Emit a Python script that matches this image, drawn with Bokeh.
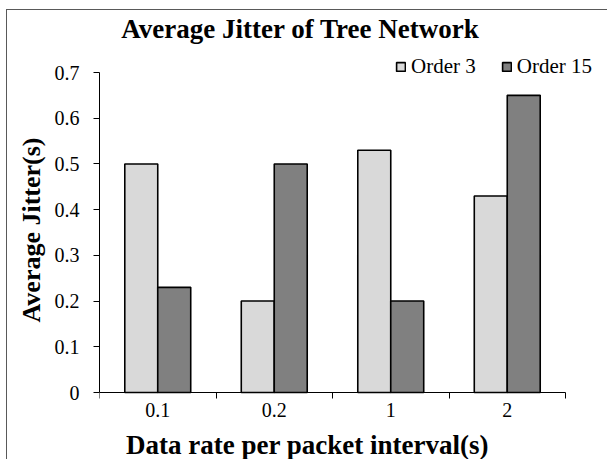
from bokeh.plotting import figure
from bokeh.models import (Range1d, FixedTicker, LinearAxis, Label, Legend, LegendItem,
                          ColumnDataSource, Title)
from bokeh.embed import file_html
from bokeh.resources import INLINE
import numpy as np

# ---- data ----
categories = ["0.1", "0.2", "1", "2"]
order3 = [0.50, 0.20, 0.53, 0.43]
order15 = [0.23, 0.50, 0.20, 0.65]
y_ticks = [0, 0.1, 0.2, 0.3, 0.4, 0.5, 0.6, 0.7]
series_names = ["Order 3", "Order 15"]
y_max = 0.7

FONT = "Liberation Serif"
LIGHT = "#d9d9d9"
DARK = "#808080"

# ---- layout (canvas pixels) ----
W, H = 601, 450
F_LEFT, F_RIGHT = 92, 558      # x = 0 and x = n
Y0, Y_TOP = 382, 62            # y = 0 and y = 0.7

n = len(categories)
# the frame fills the canvas right/top/bottom; axes are bounded to the data area
px_per_unit = (Y0 - Y_TOP) / y_max
y_start = -(H - Y0) / px_per_unit
y_end = Y0 / px_per_unit
x_end = n * (W - F_LEFT) / (F_RIGHT - F_LEFT)

centers = np.arange(n) + 0.5
bw = 0.283

p = figure(width=W, height=H, output_backend="svg", toolbar_location=None,
           x_range=Range1d(0, x_end), y_range=Range1d(y_start, y_end),
           min_border_left=F_LEFT, min_border_right=0, min_border_top=0,
           min_border_bottom=0, x_axis_type=None, y_axis_type=None)
p.title.visible = False
p.styles = {"border-left": "1px solid #595959", "border-top": "1px solid #595959",
            "margin-left": "6px", "margin-top": "9px"}
p.outline_line_color = None
p.xgrid.visible = False
p.ygrid.visible = False
p.background_fill_color = "white"
p.border_fill_color = "white"

src3 = ColumnDataSource(dict(x=centers - bw / 2, top=order3))
src15 = ColumnDataSource(dict(x=centers + bw / 2, top=order15))
r3 = p.vbar(x="x", top="top", bottom=0, width=bw, source=src3, fill_color=LIGHT,
            line_color="black", line_width=1.6)
r15 = p.vbar(x="x", top="top", bottom=0, width=bw, source=src15, fill_color=DARK,
             line_color="black", line_width=1.6)

# x axis at y = 0: labels at centers, tick marks at boundaries (minor ticks)
xt = FixedTicker(ticks=list(centers), minor_ticks=list(range(n + 1)))
xax = LinearAxis(ticker=xt, bounds=(0, n), fixed_location=0)
xax.major_label_overrides = {float(c): lab for c, lab in zip(centers, categories)}
xax.major_tick_line_color = None
xax.minor_tick_line_color = "black"
xax.minor_tick_out = 6
xax.minor_tick_in = 0
xax.axis_line_color = "black"
xax.major_label_text_font = FONT
xax.major_label_text_font_size = "20px"
xax.major_label_text_color = "black"
xax.major_label_standoff = 4
p.add_layout(xax, "below")

yax = LinearAxis(ticker=FixedTicker(ticks=y_ticks), bounds=(0, y_max))
yax.major_label_overrides = {0: "0"}
yax.major_tick_out = 6
yax.major_tick_in = 0
yax.minor_tick_line_color = None
yax.axis_line_color = "black"
yax.major_tick_line_color = "black"
yax.major_label_text_font = FONT
yax.major_label_text_font_size = "20px"
yax.major_label_text_color = "black"
yax.major_label_standoff = 14
p.add_layout(yax, "left")

ylabel = Title(text="Average Jitter(s)", align="left", offset=138,
               text_font=FONT, text_font_size="26px", text_font_style="bold",
               text_color="black", standoff=12)
p.add_layout(ylabel, "left")

title = Label(x=201, y=432, x_units="screen", y_units="screen",
              text="Average Jitter of Tree Network",
              text_font=FONT, text_font_size="27px", text_font_style="bold",
              text_align="center", text_baseline="alphabetic", text_color="black")
p.add_layout(title)

xlabel = Label(x=208, y=16, x_units="screen", y_units="screen",
               text="Data rate per packet interval(s)",
               text_font=FONT, text_font_size="27px", text_font_style="bold",
               text_align="center", text_baseline="alphabetic", text_color="black")
p.add_layout(xlabel)

legend = Legend(items=[LegendItem(label=series_names[0], renderers=[r3]),
                       LegendItem(label=series_names[1], renderers=[r15])],
                orientation="horizontal", location=(296, 381),
                glyph_width=11, glyph_height=11, label_standoff=5, spacing=25,
                padding=0, margin=0, border_line_color=None, background_fill_alpha=0,
                label_text_font=FONT, label_text_font_size="21px", label_text_color="black")
p.add_layout(legend, "center")

open("out.html", "w").write(file_html(p, INLINE))
